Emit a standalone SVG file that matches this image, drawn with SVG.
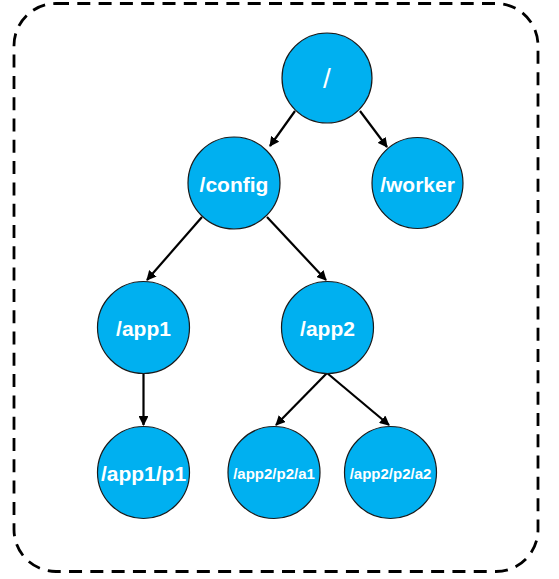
<svg xmlns="http://www.w3.org/2000/svg" width="559" height="579" viewBox="0 0 559 579">
<defs>
<marker id="ah" viewBox="0 0 10 10" refX="9" refY="5" markerWidth="4.5" markerHeight="4.5" orient="auto" markerUnits="strokeWidth">
<path d="M0,0 L10,5 L0,10 z" fill="#000"/>
</marker>
<style>
.n circle{fill:#00B0F0;stroke:#1a1a1a;stroke-width:1.2}
.n text{fill:#fff;font-family:"Liberation Sans",Arial,sans-serif;font-weight:bold;font-size:21px;text-anchor:middle;dominant-baseline:central}
.n text.s{font-size:15px}
#edges line{stroke:#000;stroke-width:2.2;marker-end:url(#ah)}
</style>
</defs>
<rect x="14" y="3.5" width="524" height="568" rx="42" ry="42" fill="none" stroke="#000" stroke-width="2.8" stroke-dasharray="13,8.3"/>
<g id="edges">
<line x1="295" y1="111" x2="270" y2="146"/>
<line x1="360" y1="111" x2="387" y2="147"/>
<line x1="202" y1="217" x2="147" y2="280"/>
<line x1="267" y1="217" x2="326" y2="280"/>
<line x1="143.5" y1="373" x2="143.5" y2="425"/>
<line x1="327" y1="373" x2="276" y2="425"/>
<line x1="327" y1="373" x2="389" y2="425"/>
</g>
<g id="root" class="n"><circle cx="327" cy="78" r="45"/><text x="327" y="78" style="font-size:28px;font-weight:normal">/</text></g>
<g id="config" class="n"><circle cx="234" cy="183" r="46"/><text x="234" y="184">/config</text></g>
<g id="worker" class="n"><circle cx="417.5" cy="183" r="45.5"/><text x="417.5" y="184">/worker</text></g>
<g id="app1" class="n"><circle cx="143.5" cy="327.5" r="46"/><text x="143.5" y="328">/app1</text></g>
<g id="app2" class="n"><circle cx="327.5" cy="327.5" r="46"/><text x="327.5" y="328">/app2</text></g>
<g id="app1p1" class="n"><circle cx="143.5" cy="472.5" r="46"/><text x="143.5" y="473">/app1/p1</text></g>
<g id="a1" class="n"><circle cx="274" cy="472.5" r="46"/><text class="s" x="274" y="473">/app2/p2/a1</text></g>
<g id="a2" class="n"><circle cx="390.5" cy="472.5" r="46"/><text class="s" x="390.5" y="473">/app2/p2/a2</text></g>
</svg>
